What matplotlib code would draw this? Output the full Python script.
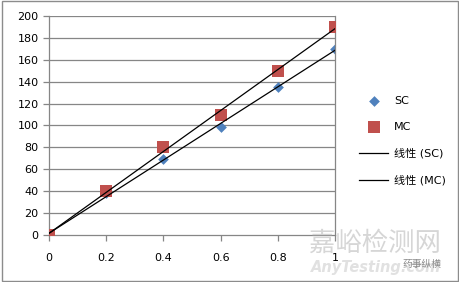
import numpy as np
import matplotlib.pyplot as plt
from matplotlib.patches import Rectangle

x = [0, 0.2, 0.4, 0.6, 0.8, 1.0]
sc = [0, 38, 69, 99, 135, 170]
mc = [0, 40, 80, 110, 150, 190]

plt.rcParams['font.family'] = ['DejaVu Sans', 'Noto Sans CJK SC']

fig = plt.figure(figsize=(4.6, 2.82), dpi=100)
fig.patch.set_facecolor("white")
ax = fig.add_axes([0.1065, 0.167, 0.622, 0.776])

grid_c = "#868686"
blue = "#4F81BD"
red = "#C0504D"

for v in range(20, 201, 20):
    ax.axhline(v, color=grid_c, lw=0.9, zorder=0)

ax.scatter(x, sc, marker="D", s=30, color=blue, zorder=2, label="SC", linewidths=0)
ax.scatter(x, mc, marker="s", s=75, color=red, zorder=3, label="MC", linewidths=0)

xs = np.array([0, 1.0])
k1, b1 = np.polyfit(x, sc, 1)
k2, b2 = np.polyfit(x, mc, 1)
ax.plot(xs, k1 * xs + b1, color="black", lw=0.9, zorder=4, label="线性 (SC)")
ax.plot(xs, k2 * xs + b2, color="black", lw=0.9, zorder=4, label="线性 (MC)")

ax.set_xlim(0, 1)
ax.set_ylim(0, 200)
ax.set_xticks([0, 0.2, 0.4, 0.6, 0.8, 1])
ax.set_xticklabels(["0", "0.2", "0.4", "0.6", "0.8", "1"])
ax.set_yticks(range(0, 201, 20))
ax.tick_params(labelsize=8, color=grid_c, length=4, width=0.9)
ax.tick_params(axis="x", pad=9)
ax.spines["top"].set_visible(False)
for s in ["left", "bottom", "right"]:
    ax.spines[s].set_color(grid_c)
    ax.spines[s].set_linewidth(0.9)

ax.legend(loc="center left", bbox_to_anchor=(1.05, 0.43), frameon=False,
          fontsize=8, handlelength=2.6, labelspacing=1.45, handletextpad=0.5)

# 외곽 테두리
fig.patches.append(Rectangle((0.004, 0.005), 0.992, 0.99, transform=fig.transFigure,
                             fill=False, edgecolor="#8c8c8c", lw=1.0))

# 워터마크
fig.text(0.672, 0.11, "嘉峪检测网", fontsize=19, color="#cfcfcf",
         family=['Noto Sans CJK SC'], alpha=0.85)
fig.text(0.675, 0.035, "AnyTesting.com", fontsize=10.5, color="#dcdcdc",
         style="italic", fontweight="bold", alpha=0.85)
fig.text(0.875, 0.055, "药事纵横", fontsize=7, color="#8a8a8a",
         family=['Noto Sans CJK SC'])

fig.savefig("out.png", dpi=100)
